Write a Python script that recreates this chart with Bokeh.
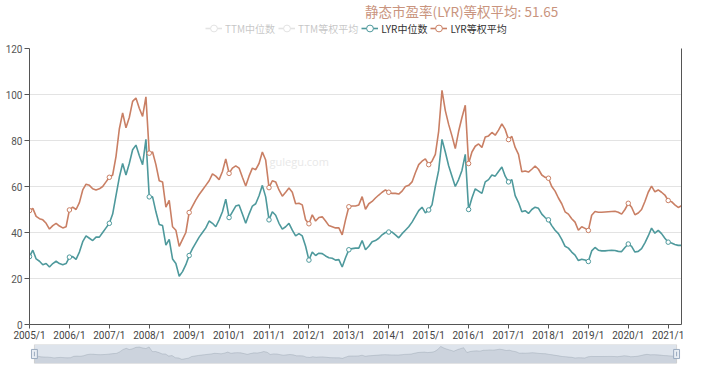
from bokeh.plotting import figure
from bokeh.models import (Range1d, FixedTicker, LinearAxis, Legend, LegendItem,
                          Label, ColumnDataSource)
from bokeh.layouts import column
from bokeh.embed import file_html
from bokeh.resources import INLINE

years = list(range(2005, 2022))
dates = [f"{y}/{m}" for y in years for m in range(1, 13)][:197]
tick_labels = [f"{y}/1" for y in years]

lyr_median = [
    29.5, 32.3, 28.5, 27.5, 26, 26.5, 25, 26.5, 27.5, 26.5, 26, 26.5,
    29.3, 29.5, 28.3, 31.5, 36, 38.5, 37.5, 36.5, 38, 38, 40, 42,
    44, 48, 56, 64, 70, 65, 70, 76, 78, 73.5, 69.5, 80.5,
    55.5, 55.5, 49, 43.5, 43, 34.5, 37, 28.5, 26.5, 21, 23, 26,
    30, 33, 35.5, 38, 40, 42, 45, 44, 42.5, 45.5, 49, 54.5,
    46.5, 49, 51.5, 52, 48, 44, 48, 51.5, 52.5, 56, 60.5, 55.5,
    45.5, 49, 47.5, 44, 41.5, 42.5, 44, 41, 38.5, 39.5, 38.5, 34,
    28, 31.5, 30, 31, 30.8, 29.8, 29, 28.8, 28, 28.2, 25, 29,
    32.5, 33, 33.2, 33.2, 36.5, 32.5, 34, 36, 36.5, 37.5, 39, 40,
    40.2, 40.2, 39, 37.7, 39.5, 41, 42.5, 44.5, 47, 49.5, 51, 48.5,
    49.8, 52, 60, 67, 80.5, 75, 69, 64.5, 60, 63, 67, 74,
    50, 55, 59, 58, 57, 62, 63, 65, 64.5, 66.5, 68.5, 64.5,
    62, 63, 56, 53, 49, 49.5, 48.3, 50, 51, 50.5, 48, 46.5,
    45.5, 43, 41, 39.5, 37, 34, 33.2, 31.5, 30.2, 27.8, 28.4, 28,
    27.4, 32, 33.5, 32.3, 32, 32, 32.2, 32.3, 32.2, 31.8, 31.7, 33.5,
    35, 34, 31.5, 31.8, 33, 35.5, 38.5, 41.9, 39.7, 40.9, 39.5, 37.5,
    35.8, 35.4, 34.8, 34.4, 34.4,
]

lyr_avg = [
    49.5, 50.5, 47, 46, 45.5, 44, 41.5, 43, 44, 42.8, 42, 42.5,
    49.8, 51, 50, 53, 58.5, 61, 60.5, 59, 58.5, 59, 60, 62,
    64, 65, 73, 85, 92, 85.5, 90, 97, 98.5, 94, 90.5, 99,
    74.5, 75, 69.5, 62.5, 62, 51, 54, 42.5, 41, 34, 37, 40,
    48.7, 51.5, 54.2, 56.5, 58.5, 60.5, 62.5, 65.5, 64.5, 63, 66.5, 72,
    65.7, 68, 69, 68, 64, 60.2, 64.5, 68, 67.3, 70, 75, 71.5,
    59.5, 62.5, 62, 58.5, 55.8, 57.5, 59.3, 57.5, 52.5, 52.7, 52, 45.5,
    43.8, 47.7, 45, 46.5, 46.8, 45, 43, 42.5, 42, 42, 39, 45.5,
    51.2, 51.5, 51.5, 52, 55.6, 50.1, 52.5, 53.5, 55, 56.3, 57.5, 58.5,
    57.5, 57, 57, 56.7, 58, 60, 60.5, 62, 66, 69.5, 71, 72,
    69.5, 71, 74, 84, 101.8, 93, 87, 82, 76.5, 84, 90, 95.3,
    70, 75, 77.5, 78.5, 77, 81.5, 82, 83.5, 82.3, 84.5, 87.2, 84.8,
    80.4, 81.8, 77, 74, 66.4, 66.7, 66.3, 67.5, 68.9, 67.5, 65, 64,
    63.6, 60, 58, 55, 52.5, 49, 48, 46, 44.5, 41, 42.5, 41.8,
    40.9, 47.5, 49.1, 48.8, 48.8, 48.9, 49, 49.1, 49.2, 48.8, 48, 50,
    52.7, 51, 47.7, 48.5, 50, 53.5, 57.5, 60.2, 57.7, 58.5, 57.5, 56.3,
    53.9, 53.4, 52, 50.9, 51.65,
]

series_names = ["TTM中位数", "TTM等权平均", "LYR中位数", "LYR等权平均"]
y_ticks = [0, 20, 40, 60, 80, 100, 120]

TEAL = "#4e999c"
ORANGE = "#c97f64"
GREY = "#999999"
FONT = "Noto Sans CJK SC"
W = 715
NAN = float("nan")

n = len(dates)
xs = list(range(n))
jan_idx = [i for i, d in enumerate(dates) if d.endswith("/1")]

src = ColumnDataSource(dict(x=xs, med=lyr_median, avg=lyr_avg))
jan_src = ColumnDataSource(dict(x=jan_idx,
                                med=[lyr_median[i] for i in jan_idx],
                                avg=[lyr_avg[i] for i in jan_idx]))

# ---------------- header: title + legend ----------------
h = figure(width=W, height=42, output_backend="svg", toolbar_location=None,
           x_range=Range1d(0, W), y_range=Range1d(42, 0),
           min_border_left=0, min_border_right=0, min_border_top=0,
           min_border_bottom=0, outline_line_color=None)
h.axis.visible = False
h.grid.visible = False

leg_styles = [(GREY, False), (GREY, False), (TEAL, True), (ORANGE, True)]
items = []
for name, (col, vis) in zip(series_names, leg_styles):
    lr = h.line(x=[NAN], y=[NAN], line_color=col, line_width=1.6, visible=vis)
    cr = h.scatter(x=[NAN], y=[NAN], marker="circle", size=7, line_color=col,
                   fill_color="white", line_width=1, visible=vis)
    items.append(LegendItem(label=name, renderers=[lr, cr]))

legend = Legend(items=items, orientation="horizontal", location=(176, 4),
                click_policy="hide", glyph_width=17, glyph_height=20,
                label_standoff=3, spacing=3, padding=0, margin=0,
                background_fill_alpha=0, border_line_color=None,
                label_text_font=FONT, label_text_font_size="10px",
                label_text_color="#333333", label_height=20,
                inactive_fill_color="white", inactive_fill_alpha=0.72)
h.add_layout(legend, "center")

h.add_layout(Label(x=368, y=0, text=f"静态市盈率(LYR)等权平均: {lyr_avg[-1]:.2f}",
                   text_font=FONT, text_font_size="13.5px",
                   text_color="#c9947e", text_baseline="top"))

# ---------------- main chart ----------------
p = figure(width=W, height=301, output_backend="svg", toolbar_location=None,
           x_range=Range1d(0, n - 1), y_range=Range1d(0, 120),
           min_border_left=29, min_border_right=34, min_border_top=6,
           min_border_bottom=18, outline_line_color=None)

p.yaxis.ticker = FixedTicker(ticks=y_ticks)
p.yaxis.axis_line_color = "#555555"
p.yaxis.major_tick_line_color = "#555555"
p.yaxis.major_tick_out = 5
p.yaxis.major_tick_in = 0
p.yaxis.minor_tick_line_color = None
p.yaxis.major_label_standoff = 2
p.yaxis.major_label_text_font = "Roboto"
p.yaxis.major_label_text_font_size = "10px"
p.yaxis.major_label_text_color = "#555555"

p.xaxis.ticker = FixedTicker(ticks=jan_idx)
p.xaxis.major_label_overrides = {i: lab for i, lab in zip(jan_idx, tick_labels)}
p.xaxis.axis_line_color = "#555555"
p.xaxis.major_tick_line_color = "#555555"
p.xaxis.major_tick_out = 4
p.xaxis.major_tick_in = 0
p.xaxis.minor_tick_line_color = None
p.xaxis.major_label_standoff = 1
p.xaxis.major_label_text_font = "Roboto"
p.xaxis.major_label_text_font_size = "10px"
p.xaxis.major_label_text_color = "#444444"

right_axis = LinearAxis(ticker=FixedTicker(ticks=[]), axis_line_color="#555555",
                        major_tick_line_color=None, minor_tick_line_color=None)
p.add_layout(right_axis, "right")

p.xgrid.grid_line_color = None
p.ygrid.ticker = FixedTicker(ticks=y_ticks[1:])
p.ygrid.grid_line_color = "#e3e3e3"

p.add_layout(Label(x=240, y=156, x_units="screen", y_units="screen",
                   text="gulegu.com", text_font="Open Sans",
                   text_font_size="11px", text_color="#e8e8e8"))

p.line("x", "med", source=src, line_color=TEAL, line_width=1.6)
p.line("x", "avg", source=src, line_color=ORANGE, line_width=1.6)
p.scatter("x", "med", source=jan_src, marker="circle", size=4.5,
          line_color=TEAL, fill_color="white", line_width=1)
p.scatter("x", "avg", source=jan_src, marker="circle", size=4.5,
          line_color=ORANGE, fill_color="white", line_width=1)

# ---------------- data-zoom slider ----------------
pad = 1.5
s = figure(width=W, height=37, output_backend="svg", toolbar_location=None,
           x_range=Range1d(-pad, n - 1 + pad), y_range=Range1d(12, 112),
           min_border_left=24, min_border_right=29, min_border_top=1,
           min_border_bottom=17, outline_line_color=None)
s.axis.visible = False
s.grid.visible = False
s.quad(left=[0], right=[n - 1], bottom=[12], top=[112],
       fill_color="#a7b7cc", fill_alpha=0.38, line_color="#d6d6d6", line_width=1)
s.varea(x=xs, y1=[12] * n, y2=lyr_avg, fill_color="#2f4554", fill_alpha=0.1)
s.line(x=xs, y=lyr_avg, line_color="#2f4554", line_alpha=0.25, line_width=0.6)
s.rect(x=[0, n - 1], y=[62, 62], width=1.8, height=48,
       fill_color="#e8edf3", line_color="#9aaabf", line_width=1)
s.segment(x0=[0, n - 1], y0=[50, 50], x1=[0, n - 1], y1=[74, 74],
          line_color="#9aaabf", line_width=1)

layout = column(h, p, s, spacing=0)
open("out.html", "w").write(file_html(layout, INLINE))
